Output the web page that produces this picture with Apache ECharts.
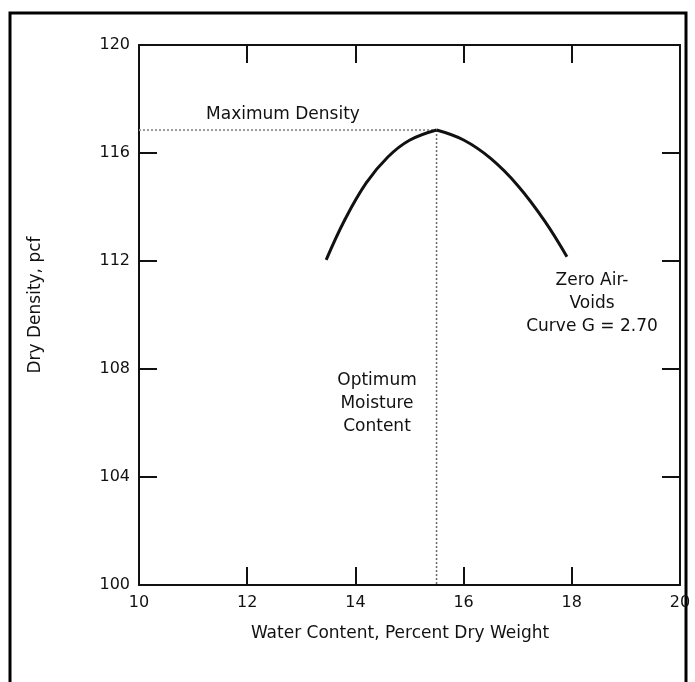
<!DOCTYPE html>
<html>
<head>
<meta charset="utf-8">
<script src="https://cdn.jsdelivr.net/npm/echarts@6/dist/echarts.min.js"></script>
<style>
  html, body { margin: 0; padding: 0; background: #fff; }
  #chart { width: 695px; height: 682px; }
</style>
</head>
<body>
<div id="chart"></div>
<script>
// Compaction curve: water content (%) vs dry density (pcf),
// split at the peak into a dry (rising) and a wet (falling) branch
const dryWater    = [13.46, 13.8, 14.2, 14.6, 15.0, 15.5];
const dryDensity  = [112.04, 113.51, 114.89, 115.85, 116.47, 116.85];
const wetWater    = [15.5, 16.0, 16.5, 17.0, 17.5, 17.91];
const wetDensity  = [116.85, 116.48, 115.80, 114.80, 113.48, 112.16];

// Peak of the curve
const optimumMoisture = 15.5;
const maxDensity = 116.85;

// Axis ranges and tick steps
const xRange = [10, 20];
const xStep = 2;
const yRange = [100, 120];
const yStep = 4;

const FONT = '"DejaVu Sans", sans-serif';
const INK = '#111';

const chart = echarts.init(document.getElementById('chart'), null, { renderer: 'canvas' });

const axisLine = { show: true, lineStyle: { color: '#111', width: 2 } };
const innerTicks = { show: true, inside: true, length: 18, lineStyle: { color: '#111', width: 2 } };
const tickFont = { fontFamily: FONT, fontSize: 16, color: INK };

const pairs = (xs, ys) => xs.map((x, i) => [x, ys[i]]);
const curveStyle = { color: '#111', width: 3 };

chart.setOption({
  animation: false,
  backgroundColor: '#fff',
  grid: { left: 139, right: 15, top: 45, bottom: 97 },
  xAxis: [
    {
      type: 'value', position: 'bottom', min: xRange[0], max: xRange[1], interval: xStep,
      axisLine, axisTick: innerTicks, splitLine: { show: false },
      axisLabel: Object.assign({ margin: 10 }, tickFont)
    },
    {
      type: 'value', position: 'top', min: xRange[0], max: xRange[1], interval: xStep,
      axisLine, axisTick: innerTicks, splitLine: { show: false },
      axisLabel: { show: false }
    }
  ],
  yAxis: [
    {
      type: 'value', position: 'left', min: yRange[0], max: yRange[1], interval: yStep,
      axisLine, axisTick: innerTicks, splitLine: { show: false },
      axisLabel: Object.assign({ margin: 9 }, tickFont)
    },
    {
      type: 'value', position: 'right', min: yRange[0], max: yRange[1], interval: yStep,
      axisLine, axisTick: innerTicks, splitLine: { show: false },
      axisLabel: { show: false }
    }
  ],
  series: [
    {
      // dotted guide to the maximum density
      type: 'line', xAxisIndex: 0, yAxisIndex: 0, symbol: 'none', silent: true,
      data: [[xRange[0], maxDensity], [optimumMoisture, maxDensity]],
      lineStyle: { color: '#9a9a9a', width: 2, type: [2, 2] }, z: 1
    },
    {
      // dotted guide down to the optimum moisture content
      type: 'line', xAxisIndex: 0, yAxisIndex: 0, symbol: 'none', silent: true,
      data: [[optimumMoisture, maxDensity], [optimumMoisture, yRange[0]]],
      lineStyle: { color: '#666', width: 1.5, type: [2, 2] }, z: 1
    },
    {
      type: 'line', xAxisIndex: 0, yAxisIndex: 0, symbol: 'none', smooth: 0.4,
      data: pairs(dryWater, dryDensity), lineStyle: curveStyle, z: 3
    },
    {
      type: 'line', xAxisIndex: 0, yAxisIndex: 0, symbol: 'none', smooth: 0.4,
      data: pairs(wetWater, wetDensity), lineStyle: curveStyle, z: 3
    }
  ],
  graphic: [
    {
      type: 'rect', silent: true,
      shape: { x: 10, y: 13, width: 676, height: 720 },
      style: { fill: 'none', stroke: '#000', lineWidth: 3 }
    },
    {
      type: 'text', x: 283, y: 115,
      style: { text: 'Maximum Density', fontFamily: FONT, fontSize: 17, fill: INK, align: 'center', verticalAlign: 'middle' }
    },
    {
      type: 'text', x: 592, y: 304,
      style: { text: 'Zero Air-\nVoids\nCurve G = 2.70', fontFamily: FONT, fontSize: 17, lineHeight: 23, fill: INK, align: 'center', verticalAlign: 'middle' }
    },
    {
      type: 'text', x: 377, y: 404,
      style: { text: 'Optimum\nMoisture\nContent', fontFamily: FONT, fontSize: 17, lineHeight: 23, fill: INK, align: 'center', verticalAlign: 'middle' }
    },
    {
      type: 'text', x: 400, y: 634,
      style: { text: 'Water Content, Percent Dry Weight', fontFamily: FONT, fontSize: 17, fill: INK, align: 'center', verticalAlign: 'middle' }
    },
    {
      type: 'text', x: 36, y: 305, rotation: Math.PI / 2,
      style: { text: 'Dry Density, pcf', fontFamily: FONT, fontSize: 17, fill: INK, align: 'center', verticalAlign: 'middle' }
    }
  ]
});
</script>
</body>
</html>
